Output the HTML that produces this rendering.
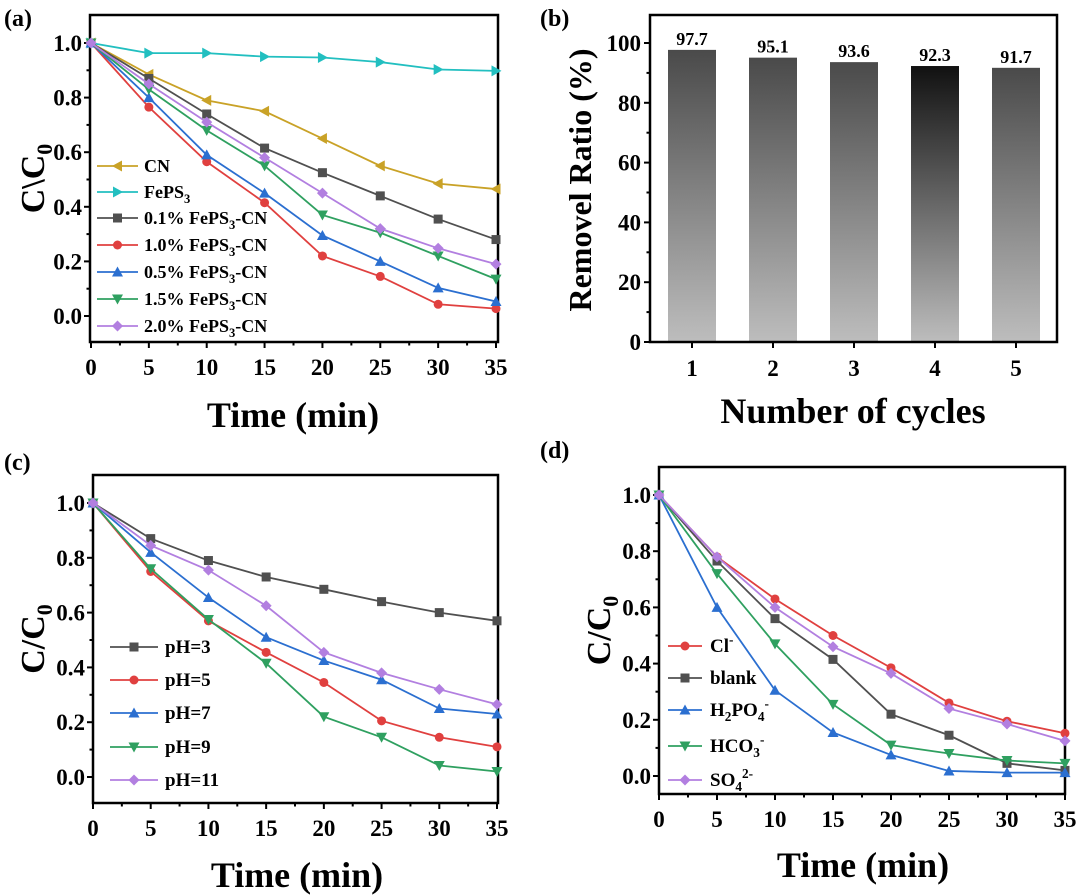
<!DOCTYPE html>
<html><head><meta charset="utf-8"><style>
body{margin:0;background:#fff}
svg{display:block;font-family:"Liberation Serif",serif;font-weight:bold}
</style></head><body>
<svg id="fig" width="1080" height="896" viewBox="0 0 1080 896" xmlns="http://www.w3.org/2000/svg">
<defs>
<linearGradient id="barg" x1="0" y1="0" x2="0" y2="1"><stop offset="0" stop-color="#4a4a4a"/><stop offset="1" stop-color="#bdbdbd"/></linearGradient>
<linearGradient id="barg4" x1="0" y1="0" x2="0" y2="1"><stop offset="0" stop-color="#111"/><stop offset="1" stop-color="#bdbdbd"/></linearGradient>
</defs>
<text x="4" y="26" font-size="24">(a)</text>
<text x="540" y="26" font-size="24">(b)</text>
<text x="4" y="470" font-size="24">(c)</text>
<text x="540" y="458" font-size="24">(d)</text>
</svg>
<script>
const times=[0,5,10,15,20,25,30,35];
const aNames=["CN","FePS3","0.1% FePS3-CN","1.0% FePS3-CN","0.5% FePS3-CN","1.5% FePS3-CN","2.0% FePS3-CN"];
const aCN=[1,.885,.79,.75,.65,.55,.485,.465];
const aFePS3=[1,.963,.963,.95,.947,.93,.903,.898];
const a01=[1,.87,.74,.615,.525,.44,.355,.28];
const a10=[1,.765,.565,.415,.22,.145,.043,.027];
const a05=[1,.8,.59,.45,.295,.2,.103,.053];
const a15=[1,.83,.68,.55,.37,.305,.22,.135];
const a20=[1,.85,.71,.58,.45,.32,.248,.19];
const cNames=["pH=3","pH=5","pH=7","pH=9","pH=11"];
const cPH3=[1,.87,.79,.73,.685,.64,.60,.57];
const cPH5=[1,.75,.57,.455,.345,.205,.145,.11];
const cPH7=[1,.82,.655,.51,.425,.355,.25,.23];
const cPH9=[1,.76,.575,.415,.22,.145,.042,.02];
const cPH11=[1,.845,.755,.625,.455,.38,.32,.265];
const dNames=["Cl-","blank","H2PO4-","HCO3-","SO4 2-"];
const dCl=[1,.78,.63,.5,.385,.26,.195,.152];
const dBlank=[1,.765,.56,.415,.22,.145,.045,.02];
const dH2PO4=[1,.6,.305,.155,.075,.018,.012,.012];
const dHCO3=[1,.72,.47,.255,.11,.08,.055,.045];
const dSO4=[1,.78,.60,.46,.365,.24,.185,.125];
const cycles=[1,2,3,4,5];
const removal=[97.7,95.1,93.6,92.3,91.7];
const xTicks=[0,5,10,15,20,25,30,35];
const yTicks=[0,0.2,0.4,0.6,0.8,1.0];
const bTicks=[0,20,40,60,80,100];

const NS="http://www.w3.org/2000/svg";
const svg=document.getElementById('fig');
function el(tag,attrs,parent,text){const e=document.createElementNS(NS,tag);for(const k in attrs)e.setAttribute(k,attrs[k]);if(text!==undefined)e.textContent=text;(parent||svg).appendChild(e);return e;}
function marker(g,shape,x,y,c){const s=4.5;let e;
 if(shape==='sq')e=el('rect',{x:x-s,y:y-s,width:2*s,height:2*s,fill:c},g);
 else if(shape==='ci')e=el('circle',{cx:x,cy:y,r:s,fill:c},g);
 else{let p;if(shape==='up')p=[[x,y-s-1],[x-s-1,y+s],[x+s+1,y+s]];else if(shape==='dn')p=[[x,y+s+1],[x-s-1,y-s],[x+s+1,y-s]];else if(shape==='lt')p=[[x-s-1,y],[x+s,y-s-1],[x+s,y+s+1]];else if(shape==='rt')p=[[x+s+1,y],[x-s,y-s-1],[x-s,y+s+1]];else p=[[x,y-s-1],[x+s+1,y],[x,y+s+1],[x-s-1,y]];
 e=el('polygon',{points:p.map(q=>q.join(',')).join(' '),fill:c},g);}
 
 }
function linePanel(P){
 const X=v=>P.x0+(P.x1-P.x0)*v/35, Y=v=>P.y0+(P.y1-P.y0)*v;
 const g=el('g',{});
 
 
 const fr=el('rect',{x:P.L,y:P.T,width:P.R-P.L,height:P.B-P.T,fill:'none',stroke:'#000','stroke-width':2.5},g);
 
 
 for(let v=0;v<=35;v+=2.5){const big=v%5===0;el('line',{x1:X(v),x2:X(v),y1:P.B,y2:P.B+(big?6:3.5),stroke:'#000','stroke-width':2},g);}
 xTicks.forEach(v=>{const t=el('text',{x:X(v),y:P.B+33,'font-size':23,'text-anchor':'middle'},g,String(v));
  
  });
 for(let i=-1;i<=10;i++){const v=i/10;const yy=Y(v);if(yy<P.T||yy>P.B)continue;el('line',{x1:P.L,x2:P.L-(i%2===0?6:3.5),y1:yy,y2:yy,stroke:'#000','stroke-width':2},g);}
 yTicks.forEach(v=>{const t=el('text',{x:P.L-8,y:Y(v)+8,'font-size':23,'text-anchor':'end'},g,v.toFixed(1));
  
  });
 const xt=el('text',{x:P.xtX,y:P.xtY,'font-size':36,'text-anchor':'middle'},g,'Time (min)');
 
 
 const yt=el('text',{x:0,y:0,'font-size':34,'text-anchor':'middle',transform:`translate(${P.ytX},${(P.T+P.B)/2}) rotate(-90)`},g);
 
 
 el('tspan',{},yt,P.ylab);el('tspan',{'font-size':22,dy:8},yt,'0');
 P.series.forEach((s,i)=>{const sg=el('g',{},g);
  
  
  el('polyline',{points:times.map((t,j)=>X(t)+','+Y(s.data[j])).join(' '),fill:'none',stroke:s.c,'stroke-width':1.8},sg);
  times.forEach((t,j)=>marker(sg,s.m,X(t),Y(s.data[j]),s.c));
  const ly=P.legY[i];const lg=el('g',{},g);
  
  
  el('line',{x1:P.legX,x2:P.legX+P.legW,y1:ly,y2:ly,stroke:s.c,'stroke-width':1.8},lg);
  marker(lg,s.m,P.legX+P.legW/2,ly,s.c);
  const tx=el('text',{x:P.legX+P.legW+P.legGap,y:ly+6,'font-size':P.legF},lg);
  let shift=0;
  s.label.forEach(part=>{
   if(part.sub){el('tspan',{'font-size':P.legF*0.7,dy:5-shift},tx,part.sub);shift=5;}
   else if(part.sup){el('tspan',{'font-size':P.legF*0.7,dy:-8-shift},tx,part.sup);shift=-8;}
   else{el('tspan',{dy:-shift},tx,part.t);shift=0;}
  });
 });
}
const T=t=>({t}),SB=s=>({sub:s}),SP=s=>({sup:s});
linePanel({id:'panel-a',L:90,R:498,T:15,B:342,x0:91,x1:496,y0:316,y1:43,xtX:293,xtY:427,ytX:44,ylab:'C\\C',
 legX:97,legW:41,legGap:6,legF:18,legY:[166,192,218,245,272,299,326],
 series:[{key:'cn',data:aCN,c:'#c9a227',m:'lt',label:[T('CN')]},
 {key:'feps3',data:aFePS3,c:'#22bfc0',m:'rt',label:[T('FePS'),SB('3')]},
 {key:'0-1pct',data:a01,c:'#505050',m:'sq',label:[T('0.1% FePS'),SB('3'),T('-CN')]},
 {key:'1-0pct',data:a10,c:'#e0403f',m:'ci',label:[T('1.0% FePS'),SB('3'),T('-CN')]},
 {key:'0-5pct',data:a05,c:'#2b6fd0',m:'up',label:[T('0.5% FePS'),SB('3'),T('-CN')]},
 {key:'1-5pct',data:a15,c:'#2fa060',m:'dn',label:[T('1.5% FePS'),SB('3'),T('-CN')]},
 {key:'2-0pct',data:a20,c:'#b27fe0',m:'di',label:[T('2.0% FePS'),SB('3'),T('-CN')]}]});
linePanel({id:'panel-c',L:93,R:498,T:475,B:803,x0:93,x1:497,y0:777,y1:503,xtX:297,xtY:887,ytX:44,ylab:'C/C',
 legX:110,legW:48,legGap:7,legF:19,legY:[647,680,713,747,780],
 series:[{key:'ph3',data:cPH3,c:'#505050',m:'sq',label:[T('pH=3')]},
 {key:'ph5',data:cPH5,c:'#e0403f',m:'ci',label:[T('pH=5')]},
 {key:'ph7',data:cPH7,c:'#2b6fd0',m:'up',label:[T('pH=7')]},
 {key:'ph9',data:cPH9,c:'#2fa060',m:'dn',label:[T('pH=9')]},
 {key:'ph11',data:cPH11,c:'#b27fe0',m:'di',label:[T('pH=11')]}]});
linePanel({id:'panel-d',L:659,R:1065,T:467,B:794,x0:659,x1:1065,y0:776,y1:495,xtX:863,xtY:877,ytX:610,ylab:'C/C',
 legX:668,legW:34,legGap:8,legF:19,legY:[646,678,710,746,780],
 series:[{key:'cl',data:dCl,c:'#e0403f',m:'ci',label:[T('Cl'),SP('-')]},
 {key:'blank',data:dBlank,c:'#505050',m:'sq',label:[T('blank')]},
 {key:'h2po4',data:dH2PO4,c:'#2b6fd0',m:'up',label:[T('H'),SB('2'),T('PO'),SB('4'),SP('-')]},
 {key:'hco3',data:dHCO3,c:'#2fa060',m:'dn',label:[T('HCO'),SB('3'),SP('-')]},
 {key:'so4',data:dSO4,c:'#b27fe0',m:'di',label:[T('SO'),SB('4'),SP('2-')]}]});
// panel b
(function(){
 const L=650,R=1057,Tp=15,B=342;
 const Y=v=>B-(B-43)*v/100, X=c=>692+(c-1)*81;
 const g=el('g',{});
 
 
 cycles.forEach((c,i)=>{const r=el('rect',{x:X(c)-24,y:Y(removal[i]),width:48,height:B-Y(removal[i]),fill:c===4?'url(#barg4)':'url(#barg)'},g);
  
  
  const t=el('text',{x:X(c),y:Y(removal[i])-5,'font-size':18,'text-anchor':'middle'},g,removal[i].toFixed(1));
  
  
  el('line',{x1:X(c),x2:X(c),y1:B,y2:B+6,stroke:'#000','stroke-width':2},g);
  const xl=el('text',{x:X(c),y:B+34,'font-size':23,'text-anchor':'middle'},g,String(c));
  
  });
 const fr=el('rect',{x:L,y:Tp,width:R-L,height:B-Tp,fill:'none',stroke:'#000','stroke-width':2.5},g);
 
 
 for(let v=0;v<=100;v+=10){const yy=Y(v);el('line',{x1:L,x2:L-(v%20===0?6:3.5),y1:yy,y2:yy,stroke:'#000','stroke-width':2},g);}
 bTicks.forEach(v=>{const t=el('text',{x:L-9,y:Y(v)+8,'font-size':23,'text-anchor':'end'},g,String(v));
  
  });
 const xt=el('text',{x:853,y:423,'font-size':36,'text-anchor':'middle'},g,'Number of cycles');
 
 
 const yt=el('text',{x:0,y:0,'font-size':32,'text-anchor':'middle',transform:`translate(591,180) rotate(-90)`},g,'Removel Ratio (%)');
 
 
})();
</script>
</body></html>
